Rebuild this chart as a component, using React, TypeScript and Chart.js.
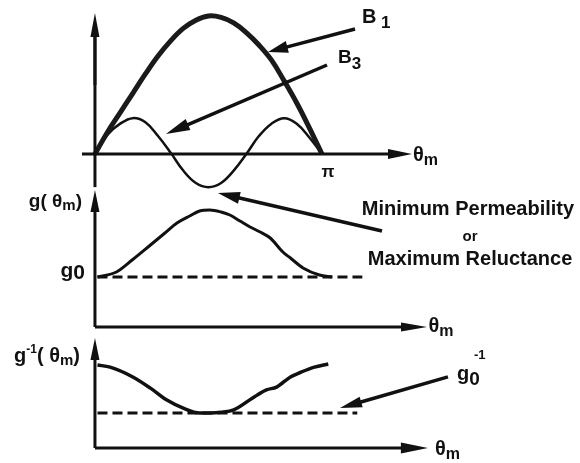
import { useEffect, useRef } from "react";
import { Chart, registerables } from "chart.js";

Chart.register(...registerables);

// ---- data (θm in degrees, values in arbitrary units) ----
const thetaTop = [0, 10, 20, 30, 40, 50, 60, 70, 80, 90, 100, 110, 120, 130, 140, 150, 160, 170, 180];
const b1Values = [0, 0.16, 0.3, 0.44, 0.58, 0.71, 0.82, 0.91, 0.97, 1.0, 0.99, 0.95, 0.88, 0.79, 0.68, 0.53, 0.37, 0.19, 0];
const b3Values = [0, 0.14, 0.22, 0.26, 0.23, 0.13, 0.01, -0.12, -0.21, -0.24, -0.21, -0.12, 0.0, 0.13, 0.22, 0.26, 0.22, 0.12, 0];

const thetaG = [2, 17, 30, 44, 55, 65, 75, 83, 91, 100, 107, 115, 123, 131, 139, 149, 155, 165, 178, 188];
const gValues = [1.0, 1.1, 1.35, 1.64, 1.87, 2.08, 2.22, 2.32, 2.34, 2.3, 2.24, 2.12, 2.0, 1.9, 1.78, 1.5, 1.38, 1.18, 1.04, 1.0];

const thetaGInv = [2, 12, 30, 44, 57, 70, 83, 91, 100, 110, 125, 136, 144, 155, 163, 174, 185];
const gInvValues = [2.37, 2.31, 2.03, 1.71, 1.37, 1.14, 1.0, 1.0, 1.02, 1.09, 1.43, 1.66, 1.74, 2.03, 2.16, 2.31, 2.4];

const g0Level = 1;
const g0DashTheta = [2, 212];
const g0InvLevel = 1;
const g0InvDashTheta = [2, 208];

const FONT = '"Liberation Sans", Arial, sans-serif';
const INK = "#111";

type Seg = { t: string; size: number; dy?: number };

function drawRich(ctx: CanvasRenderingContext2D, segs: Seg[], x: number, y: number, align: "left" | "right" | "center") {
  let total = 0;
  const widths: number[] = [];
  for (const s of segs) {
    ctx.font = `bold ${s.size}px ${FONT}`;
    const w = ctx.measureText(s.t).width;
    widths.push(w);
    total += w;
  }
  let cx = align === "left" ? x : align === "right" ? x - total : x - total / 2;
  ctx.textAlign = "left";
  ctx.textBaseline = "alphabetic";
  segs.forEach((s, i) => {
    ctx.font = `bold ${s.size}px ${FONT}`;
    ctx.fillText(s.t, cx, y + (s.dy || 0));
    cx += widths[i];
  });
}

function arrow(ctx: CanvasRenderingContext2D, x1: number, y1: number, x2: number, y2: number, lw: number, hl: number, hw: number) {
  const a = Math.atan2(y2 - y1, x2 - x1);
  const bx = x2 - hl * Math.cos(a);
  const by = y2 - hl * Math.sin(a);
  ctx.lineWidth = lw;
  ctx.lineCap = "butt";
  ctx.beginPath();
  ctx.moveTo(x1, y1);
  ctx.lineTo(bx + Math.cos(a) * 2, by + Math.sin(a) * 2);
  ctx.stroke();
  ctx.beginPath();
  ctx.moveTo(x2, y2);
  ctx.lineTo(bx + (hw / 2) * Math.sin(a), by - (hw / 2) * Math.cos(a));
  ctx.lineTo(bx - (hw / 2) * Math.sin(a), by + (hw / 2) * Math.cos(a));
  ctx.closePath();
  ctx.fill();
}

const diagramPlugin = {
  id: "diagram",
  afterDatasetsDraw(chart: any) {
    const ctx: CanvasRenderingContext2D = chart.ctx;
    const x = chart.scales.x;
    const yB = chart.scales.yB;
    const yG = chart.scales.yG;
    const yI = chart.scales.yI;
    const X = (v: number) => x.getPixelForValue(v);
    ctx.save();
    ctx.strokeStyle = INK;
    ctx.fillStyle = INK;

    // ---- axes ----
    ctx.lineWidth = 3;
    ctx.beginPath();
    ctx.moveTo(X(0), yB.getPixelForValue(-0.24));
    ctx.lineTo(X(0), yB.getPixelForValue(0.9));
    ctx.stroke();
    arrow(ctx, X(0), yB.getPixelForValue(0.5), X(0), yB.getPixelForValue(1.022), 3, 24, 9);
    arrow(ctx, X(-10.3), yB.getPixelForValue(0), X(251.4), yB.getPixelForValue(0), 3, 24, 10);
    arrow(ctx, X(0), yG.getPixelForValue(0), X(0), yG.getPixelForValue(2.74), 3, 22, 9);
    arrow(ctx, X(0), yG.getPixelForValue(0), X(263.3), yG.getPixelForValue(0), 3, 26, 9);
    arrow(ctx, X(0), yI.getPixelForValue(0), X(0), yI.getPixelForValue(3.14), 3, 22, 9);
    arrow(ctx, X(0), yI.getPixelForValue(0), X(264), yI.getPixelForValue(0), 3, 27, 11);

    // ---- annotation arrows ----
    arrow(ctx, X(206.2), yB.getPixelForValue(0.906), X(137.2), yB.getPixelForValue(0.739), 3.5, 20, 12);
    arrow(ctx, X(184.0), yB.getPixelForValue(0.645), X(56.3), yB.getPixelForValue(0.145), 3.5, 24, 12);
    arrow(ctx, X(227.6), yG.getPixelForValue(1.92), X(97.5), yG.getPixelForValue(2.68), 3.5, 22, 12);
    arrow(ctx, X(279.9), yI.getPixelForValue(2.03), X(194.3), yI.getPixelForValue(1.14), 3.5, 22, 11);

    // ---- labels ----
    drawRich(ctx, [{ t: "B", size: 20 }, { t: " 1", size: 17, dy: 5 }], X(211.7), yB.getPixelForValue(0.949), "left");
    drawRich(ctx, [{ t: "B", size: 19 }, { t: "3", size: 17, dy: 6 }], X(192.7), yB.getPixelForValue(0.66), "left");
    drawRich(ctx, [{ t: "θ", size: 20 }, { t: "m", size: 16, dy: 4 }], X(252.2), yB.getPixelForValue(-0.05), "left");
    drawRich(ctx, [{ t: "π", size: 17 }], X(184.8), yB.getPixelForValue(-0.17), "center");

    drawRich(ctx, [{ t: "θ", size: 20 }, { t: "m", size: 16, dy: 4 }], X(264.5), yG.getPixelForValue(-0.1), "left");
    drawRich(ctx, [{ t: "g( θ", size: 19 }, { t: "m", size: 15, dy: 3 }, { t: ")", size: 19 }], X(-10.3), yG.getPixelForValue(2.4), "right");
    drawRich(ctx, [{ t: "g", size: 21 }, { t: "0", size: 21, dy: 2 }], X(-7.9), yG.getPixelForValue(1.0), "right");
    drawRich(ctx, [{ t: "Minimum Permeability", size: 20 }], X(295.8), yG.getPixelForValue(2.24), "center");
    drawRich(ctx, [{ t: "or", size: 15 }], X(297.4), yG.getPixelForValue(1.72), "center");
    drawRich(ctx, [{ t: "Maximum Reluctance", size: 20 }], X(297.4), yG.getPixelForValue(1.24), "center");

    drawRich(ctx, [{ t: "θ", size: 20 }, { t: "m", size: 16, dy: 4 }], X(269.6), yI.getPixelForValue(-0.2), "left");
    drawRich(ctx, [{ t: "g", size: 20 }, { t: "-1", size: 12, dy: -9 }, { t: "( θ", size: 20 }, { t: "m", size: 15, dy: 3 }, { t: ")", size: 20 }], X(-11.9), yI.getPixelForValue(2.46), "right");
    drawRich(ctx, [{ t: "g", size: 20 }, { t: "0", size: 19, dy: 5 }], X(287), yI.getPixelForValue(1.94), "left");
    drawRich(ctx, [{ t: "-1", size: 13 }], X(300.5), yI.getPixelForValue(2.55), "left");

    ctx.restore();
  },
};

export default function App() {
  const ref = useRef<HTMLCanvasElement | null>(null);

  useEffect(() => {
    if (!ref.current) return;
    const pts = (xs: number[], ys: number[]) => xs.map((v, i) => ({ x: v, y: ys[i] }));
    const chart = new Chart(ref.current, {
      type: "line",
      data: {
        datasets: [
          {
            label: "B1",
            data: pts(thetaTop, b1Values),
            yAxisID: "yB",
            borderColor: "#1a1a1a",
            borderWidth: 5,
            tension: 0.4,
            pointRadius: 0,
          },
          {
            label: "B3",
            data: pts(thetaTop, b3Values),
            yAxisID: "yB",
            borderColor: INK,
            borderWidth: 2.5,
            tension: 0.4,
            pointRadius: 0,
          },
          {
            label: "g",
            data: pts(thetaG, gValues),
            yAxisID: "yG",
            borderColor: INK,
            borderWidth: 3,
            cubicInterpolationMode: "monotone",
            pointRadius: 0,
          },
          {
            label: "g0",
            data: pts(g0DashTheta, [g0Level, g0Level]),
            yAxisID: "yG",
            borderColor: INK,
            borderWidth: 3,
            borderDash: [10, 5],
            pointRadius: 0,
          },
          {
            label: "gInv",
            data: pts(thetaGInv, gInvValues),
            yAxisID: "yI",
            borderColor: INK,
            borderWidth: 3.5,
            cubicInterpolationMode: "monotone",
            pointRadius: 0,
          },
          {
            label: "g0Inv",
            data: pts(g0InvDashTheta, [g0InvLevel, g0InvLevel]),
            yAxisID: "yI",
            borderColor: INK,
            borderWidth: 3,
            borderDash: [10, 5],
            pointRadius: 0,
          },
        ],
      },
      options: {
        animation: false,
        responsive: false,
        maintainAspectRatio: false,
        layout: { padding: 0 },
        plugins: { legend: { display: false }, tooltip: { enabled: false } },
        scales: {
          x: { type: "linear", display: false, min: -75.3, max: 384.6 },
          yB: { type: "linear", display: false, min: -2.239, max: 1.116 },
          yG: { type: "linear", display: false, min: -2.72, max: 6.54 },
          yI: { type: "linear", display: false, min: -0.429, max: 12.8 },
        },
      },
      plugins: [diagramPlugin],
    });
    return () => chart.destroy();
  }, []);

  return (
    <div style={{ position: "absolute", left: 0, top: 0, width: 580, height: 463, background: "#fff" }}>
      <canvas ref={ref} width={580} height={463} style={{ width: 580, height: 463 }} />
    </div>
  );
}
